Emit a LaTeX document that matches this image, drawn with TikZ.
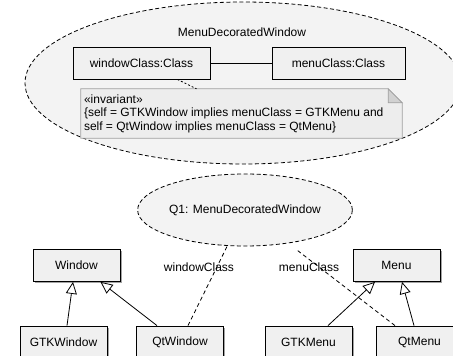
\documentclass[tikz,border=0pt]{standalone}
\usepackage{fontspec}
\setmainfont{Liberation Sans}
\usetikzlibrary{arrows.meta,shapes.geometric,shadows,calc}
\definecolor{boxfill}{HTML}{F0F0F0}
\definecolor{ellfill}{HTML}{F3F3F3}
\definecolor{notefill}{HTML}{EDEDED}
\definecolor{noteline}{HTML}{A0A0A0}
\begin{document}
\begin{tikzpicture}[x=1pt,y=-1pt, font=\fontsize{12}{13.5}\selectfont,
  cls/.style={draw=black, line width=0.8pt, fill=boxfill, minimum width=87pt, minimum height=32pt, inner sep=0pt},
  shd/.style={drop shadow={shadow xshift=1.5pt, shadow yshift=-1.5pt, fill=black!45, opacity=0.8}},
  ell/.style={ellipse, draw=black, line width=0.8pt, dash pattern=on 4pt off 2.5pt, fill=ellfill, inner sep=0pt},
  inh/.style={-{Triangle[fill=white,length=12pt,width=11pt]}, line width=0.8pt},
  dep/.style={line width=0.8pt, dash pattern=on 4pt off 3pt}]
\useasboundingbox (0,0) rectangle (453,356);
\clip (0,0) rectangle (453,356);
% composite structure
\node[ell, minimum width=436pt, minimum height=162pt] (big) at (243,83) {};
\node (title) at (242,32) {MenuDecoratedWindow};
\node[cls, minimum width=137pt] (wc) at (141.5,63) {windowClass:Class};
\node[cls, minimum width=133pt] (mc) at (338.5,63) {menuClass:Class};
\draw[line width=0.8pt] (wc) -- (mc);
% note
\node[minimum width=321pt, minimum height=49pt, inner sep=0pt] (note) at (241.5,113.5) {};
\draw[noteline, fill=notefill, line width=0.8pt] (note.north west) -- ([xshift=-14pt]note.north east) -- ([yshift=-14pt]note.north east) -- (note.south east) -- (note.south west) -- cycle;
\draw[noteline, fill=black!18, line width=0.8pt] ([xshift=-14pt]note.north east) -- ([xshift=-14pt,yshift=-14pt]note.north east) -- ([yshift=-14pt]note.north east) -- cycle;
\node[anchor=west, align=left, inner sep=0pt] (nt) at ([xshift=3pt]note.west)
  {«invariant»\\ \{self = GTKWindow implies menuClass = GTKMenu and\\ self = QtWindow implies menuClass = QtMenu\}};
\draw[dep, dash pattern=on 2pt off 2pt] ($(wc.south west)!0.76!(wc.south east)$) -- ($(note.north west)!0.36!(note.north east)$);
% collaboration use
\node[ell, minimum width=184pt, minimum height=72pt] (q1) at (245,210) {Q1: MenuDecoratedWindow};
% classes
\node[cls, shd] (win) at (76.5,265.5) {Window};
\node[cls, shd] (menu) at (396.5,265.5) {Menu};
\node[cls, shd] (gw) at (63.5,342) {GTKWindow};
\node[cls, shd] (qw) at (180,342) {QtWindow};
\node[cls, shd] (gm) at (308.5,342) {GTKMenu};
\node[cls, shd] (qm) at (419.5,342) {QtMenu};
% generalizations
\draw[inh] ([xshift=3.5pt]gw.north) -- ([xshift=-3.5pt]win.south);
\draw[inh] ([xshift=-23pt]qw.north) -- ([xshift=24pt]win.south);
\draw[inh] ([xshift=19.5pt]gm.north) -- ([xshift=-21.5pt]menu.south);
\draw[inh] ([xshift=-5.5pt]qm.north) -- ([xshift=5.5pt]menu.south);
% role bindings
\draw[dep] ([xshift=8pt]qw.north) -- (q1);
\draw[dep, shorten >=12pt] ([xshift=-24.5pt]qm.north) -- (q1);
\node (wcl) at (199,267) {windowClass};
\node (mcl) at (309,267) {menuClass};
\end{tikzpicture}
\end{document}
